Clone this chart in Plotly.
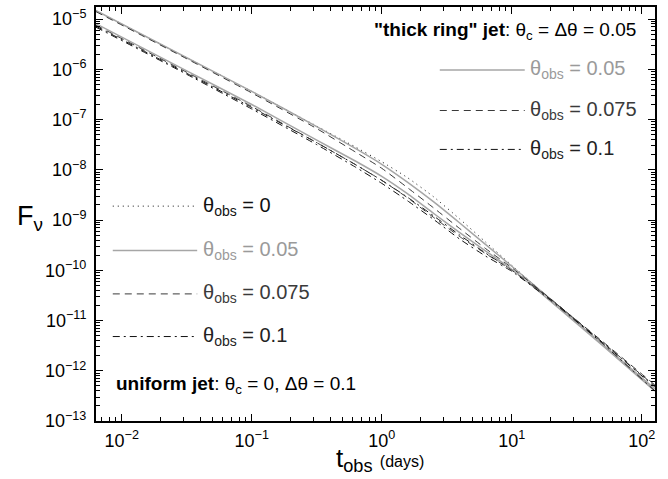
import plotly.graph_objects as go

# log10 of observer time (days) at which each light curve is sampled
log_t = [-2.2, -1.5, -1.0, -0.5, -0.2, 0.0, 0.2, 0.4, 0.6, 0.8, 1.0, 1.3, 1.7, 2.1]

# log10 F_nu for the uniform jet (theta_c = 0, d_theta = 0.1)
uni_0 = [-4.83, -5.77, -6.44, -7.13, -7.55, -7.84, -8.16, -8.54, -8.98, -9.44, -9.90, -10.58, -11.48, -12.36]
uni_005 = [-4.83, -5.77, -6.44, -7.14, -7.58, -7.89, -8.25, -8.64, -9.06, -9.49, -9.92, -10.58, -11.48, -12.36]
uni_0075 = [-4.85, -5.79, -6.47, -7.18, -7.65, -7.97, -8.36, -8.76, -9.17, -9.57, -9.95, -10.57, -11.44, -12.30]
uni_01 = [-5.14, -6.08, -6.76, -7.46, -7.90, -8.21, -8.55, -8.92, -9.30, -9.66, -9.99, -10.58, -11.44, -12.32]

# log10 F_nu for the "thick ring" jet (theta_c = d_theta = 0.05)
ring_005 = [-5.09, -6.03, -6.70, -7.41, -7.83, -8.13, -8.48, -8.87, -9.25, -9.62, -9.98, -10.62, -11.50, -12.40]
ring_0075 = [-5.12, -6.06, -6.74, -7.46, -7.90, -8.21, -8.56, -8.95, -9.33, -9.67, -10.00, -10.58, -11.42, -12.28]
ring_01 = [-5.16, -6.10, -6.79, -7.50, -7.95, -8.27, -8.62, -8.99, -9.38, -9.72, -10.02, -10.60, -11.46, -12.40]

y_tick_exp = [-13, -12, -11, -10, -9, -8, -7, -6, -5]
x_tick_exp = [-2, -1, 0, 1, 2]

t = [10 ** v for v in log_t]

GRAY = "#a6a6a6"
DARK = "#3a3a3a"
BLACK = "#111111"

styles = {
    "0": dict(color=BLACK, width=1, dash="1px,4px"),
    "0.05": dict(color=GRAY, width=1.5, dash="solid"),
    "0.075": dict(color=DARK, width=1, dash="7px,5px"),
    "0.1": dict(color=BLACK, width=1, dash="7px,4px,2px,4px"),
}

fig = go.Figure()
series = [
    ("0", uni_0), ("0.05", uni_005), ("0.075", uni_0075), ("0.1", uni_01),
    ("0.05", ring_005), ("0.075", ring_0075), ("0.1", ring_01),
]
for key, vals in series:
    fig.add_trace(go.Scatter(
        x=t, y=[10 ** v for v in vals], mode="lines",
        line=dict(shape="spline", smoothing=0.5, **styles[key]),
        showlegend=False, hoverinfo="skip",
    ))

FONT = "Liberation Sans, Arial, Helvetica, sans-serif"

fig.update_layout(
    width=668, height=479,
    margin=dict(l=96, r=13, t=5, b=58),
    paper_bgcolor="white", plot_bgcolor="white",
    font=dict(family=FONT, size=18, color="black"),
)

fig.update_xaxes(
    type="log", range=[-2.198, 2.102],
    tickvals=[10 ** e for e in x_tick_exp],
    ticktext=[f"10<sup>{str(e).replace('-', '−')}</sup>" for e in x_tick_exp],
    ticks="inside", ticklen=7, tickwidth=1, tickcolor="black",
    minor=dict(ticks="inside", ticklen=4, tickcolor="black", dtick="D1"),
    showline=True, linewidth=2, linecolor="black", mirror="ticks",
    showgrid=False, zeroline=False,
    tickfont=dict(size=18), ticklabelstandoff=2,
)
fig.update_yaxes(
    type="log", range=[-13, -4.76],
    tickvals=[10 ** e for e in y_tick_exp],
    ticktext=[f"10<sup>{str(e).replace('-', '−')}</sup>" for e in y_tick_exp],
    ticks="inside", ticklen=7, tickwidth=1, tickcolor="black",
    minor=dict(ticks="inside", ticklen=4, tickcolor="black", dtick="D1"),
    showline=True, linewidth=2, linecolor="black", mirror="ticks",
    showgrid=False, zeroline=False,
    tickfont=dict(size=18), ticklabelstandoff=4,
)

# axis titles
fig.add_annotation(text="F<sub>ν</sub>", xref="paper", yref="paper",
                   x=-0.118, y=0.49, showarrow=False, font=dict(size=27),
                   xanchor="center", yanchor="middle")
fig.add_annotation(text="t<sub>obs</sub> <span style='font-size:16px'>(days)</span>",
                   xref="paper", yref="paper", x=0.508, y=-0.048,
                   showarrow=False, font=dict(size=26), xanchor="center", yanchor="top")


def legend_row(x0, x1, y, key, color):
    fig.add_shape(type="line", xref="paper", yref="paper",
                  x0=x0, x1=x1, y0=y, y1=y, line=styles[key])
    fig.add_annotation(text=f"θ<sub>obs</sub> = {key}", xref="paper", yref="paper",
                       x=x1 + 0.006, y=y, xanchor="left", yanchor="middle",
                       showarrow=False, font=dict(size=20, color=color))


# uniform jet key
for key, y, col in [("0", 0.519, BLACK), ("0.05", 0.412, "#9a9a9a"),
                    ("0.075", 0.307, DARK), ("0.1", 0.204, "#222222")]:
    legend_row(0.030, 0.181, y, key, col)
fig.add_annotation(text="<b>uniform jet</b>: θ<sub>c</sub> = 0, Δθ = 0.1",
                   xref="paper", yref="paper", x=0.033, y=0.087,
                   xanchor="left", yanchor="middle", showarrow=False,
                   font=dict(size=19))

# thick ring jet key
for key, y, col in [("0.05", 0.848, "#9a9a9a"), ("0.075", 0.750, DARK),
                    ("0.1", 0.656, "#222222")]:
    legend_row(0.615, 0.767, y, key, col)
fig.add_annotation(text="<b>\"thick ring\" jet</b>: θ<sub>c</sub> = Δθ = 0.05",
                   xref="paper", yref="paper", x=0.97, y=0.942,
                   xanchor="right", yanchor="middle", showarrow=False,
                   font=dict(size=19))

fig.write_html("out.html")
